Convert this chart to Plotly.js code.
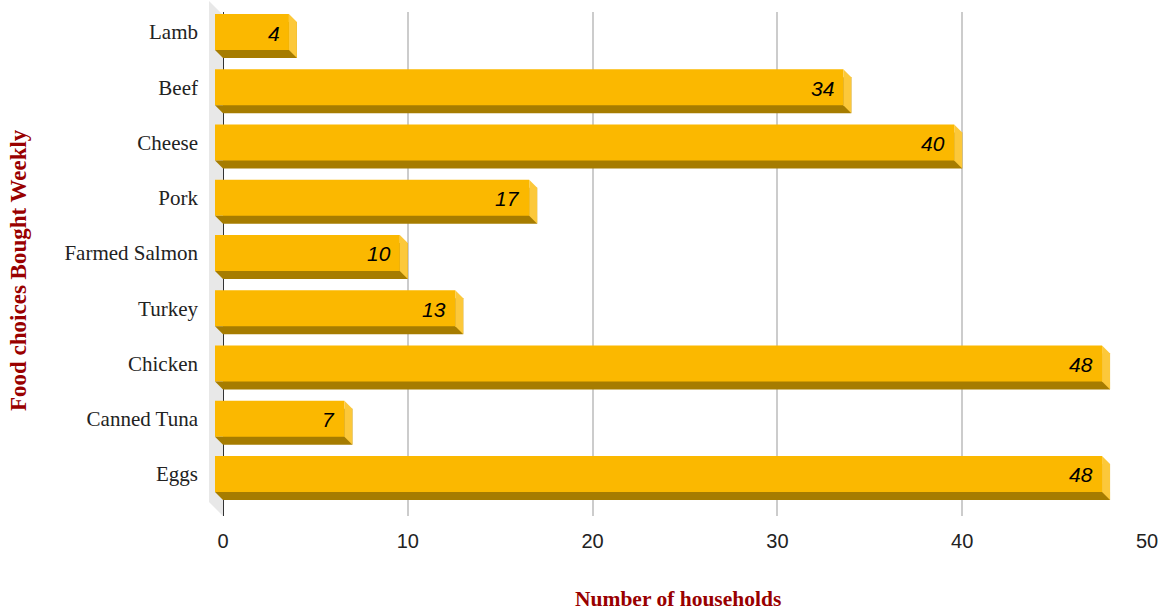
<!DOCTYPE html>
<html>
<head>
<meta charset="utf-8">
<script src="https://cdn.plot.ly/plotly-3.0.1.min.js"></script>
<style>html,body{margin:0;padding:0;background:#fff;}#chart{width:1159px;height:612px;}</style>
</head>
<body>
<div id="chart"></div>
<script>
// ---- data ----
const categories = ['Lamb', 'Beef', 'Cheese', 'Pork', 'Farmed Salmon', 'Turkey', 'Chicken', 'Canned Tuna', 'Eggs'];
const households = [4, 34, 40, 17, 10, 13, 48, 7, 48];
const xTickVals = [0, 10, 20, 30, 40, 50];
const xTickText = ['0', '10', '20', '30', '40', '50'];
const xTitle = 'Number of households';
const yTitle = 'Food choices Bought Weekly';

// ---- style ----
const FRONT = '#FBB800';
const DARK = '#A67C00';
const SIDE = '#FCC83A';
const WALL = '#E8E8E8';
const DEPTH = 8;        // px depth of 3D bars
const BARW = 0.65;      // bar thickness (category units)
const HALF = 18;        // half bar thickness in px

// plot area in px: left 209, right 1147, top 1, bottom 516
const W = 938, H = 515;
const px = v => (v - 209) / W;
const py = v => (516 - v) / H;

const traces = [
  {type: 'scatter', x: [], y: [], xaxis: 'x', yaxis: 'y', hoverinfo: 'skip', showlegend: false},
  {type: 'bar', orientation: 'h', x: households, y: categories, xaxis: 'x', yaxis: 'y2',
   width: BARW, marker: {color: DARK, line: {width: 0}}, hoverinfo: 'skip', showlegend: false},
  {type: 'bar', orientation: 'h', x: households, y: categories, xaxis: 'x2', yaxis: 'y3',
   width: BARW, marker: {color: FRONT, line: {width: 0}}, hoverinfo: 'skip', showlegend: false}
];

const shapes = [
  {type: 'path', xref: 'paper', yref: 'paper', layer: 'below',
   path: `M ${px(209)},${py(1)} L ${px(223)},${py(15)} L ${px(223)},${py(516)} L ${px(209)},${py(502)} Z`,
   fillcolor: WALL, line: {width: 0}}
];
categories.forEach((c, i) => {
  shapes.push({type: 'path', xref: 'x2', yref: 'y3', xsizemode: 'pixel', ysizemode: 'pixel',
    xanchor: households[i], yanchor: c, layer: 'above',
    path: `M0,${HALF} L${DEPTH},${HALF - DEPTH} L${DEPTH},${-HALF - DEPTH} L0,${-HALF} Z`,
    fillcolor: SIDE, line: {width: 0}});
  shapes.push({type: 'path', xref: 'x2', yref: 'y3', xsizemode: 'pixel', ysizemode: 'pixel',
    xanchor: 0, yanchor: c, layer: 'above',
    path: `M0,${-HALF} L${DEPTH},${-HALF} L${DEPTH},${-HALF - DEPTH} Z`,
    fillcolor: DARK, line: {width: 0}});
});

const annotations = categories.map((c, i) => ({
  x: households[i], y: c, xref: 'x2', yref: 'y3', text: String(households[i]),
  showarrow: false, xanchor: 'right', yanchor: 'middle', xshift: -7, yshift: -1,
  font: {family: 'Liberation Sans, Arial, sans-serif', size: 21, color: '#000', style: 'italic'}
}));
annotations.push({
  xref: 'paper', yref: 'paper', x: px(18), y: py(270), text: '<b>' + yTitle + '</b>',
  textangle: -90, showarrow: false, xanchor: 'center', yanchor: 'middle',
  font: {family: 'Liberation Serif, Times New Roman, serif', size: 23, color: '#990000'}
});
annotations.push({
  xref: 'paper', yref: 'paper', x: px(678), y: py(599), text: '<b>' + xTitle + '</b>',
  showarrow: false, xanchor: 'center', yanchor: 'middle',
  font: {family: 'Liberation Serif, Times New Roman, serif', size: 21.5, color: '#990000'}
});

const layout = {
  width: 1159, height: 612,
  margin: {l: 209, r: 12, t: 1, b: 96},
  paper_bgcolor: '#fff', plot_bgcolor: 'rgba(0,0,0,0)',
  showlegend: false,
  xaxis: {
    domain: [px(223), 1], range: [0, 50], anchor: 'y',
    tickvals: xTickVals, ticktext: xTickText, ticks: '',
    showgrid: true, gridcolor: '#CCCCCC', gridwidth: 2,
    zeroline: true, zerolinecolor: '#333333', zerolinewidth: 1,
    showline: false, ticklabelstandoff: 11,
    tickfont: {family: 'Liberation Sans, Arial, sans-serif', size: 20, color: '#222'},
    fixedrange: true
  },
  yaxis: {
    domain: [0, py(15)], range: [0, 1], anchor: 'x',
    showgrid: false, zeroline: false, showticklabels: false, showline: false, ticks: '', fixedrange: true
  },
  yaxis2: {
    domain: [py(509.6), py(12.4)], type: 'category', categoryorder: 'array', categoryarray: categories,
    range: [8.5, -0.5], anchor: 'x',
    showgrid: false, zeroline: false, showticklabels: false, showline: false, ticks: '', fixedrange: true
  },
  xaxis2: {
    domain: [px(215), px(1139)], range: [0, 50], anchor: 'y3',
    showgrid: false, zeroline: false, showticklabels: false, showline: false, ticks: '', fixedrange: true
  },
  yaxis3: {
    domain: [py(501.6), py(4.4)], type: 'category', categoryorder: 'array', categoryarray: categories,
    range: [8.5, -0.5], anchor: 'x2',
    showgrid: false, zeroline: false, showline: false, ticks: '', ticklabelstandoff: 16,
    tickfont: {family: 'Liberation Serif, Times New Roman, serif', size: 21, color: '#222'},
    fixedrange: true
  },
  shapes: shapes,
  annotations: annotations
};

Plotly.newPlot('chart', traces, layout, {displayModeBar: false, staticPlot: true});
</script>
</body>
</html>
